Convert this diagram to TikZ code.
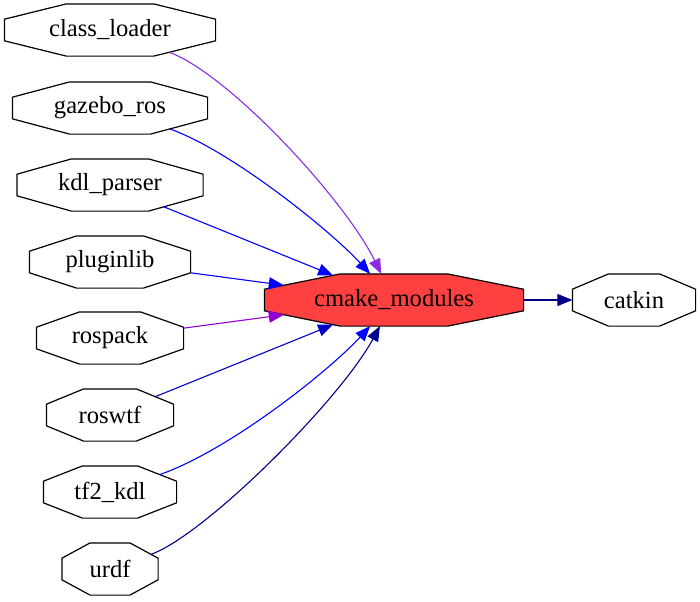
\documentclass[tikz,border=0pt]{standalone}
\usepackage{fontspec}
\setmainfont{Liberation Serif}
\usepackage{xcolor}
\usetikzlibrary{arrows.meta}
\definecolor{cmred}{HTML}{FF4040}
\definecolor{bviolet}{HTML}{8A2BE2}
\definecolor{dviolet}{HTML}{9400D3}
\definecolor{mblue}{HTML}{0000CD}
\definecolor{dblue}{HTML}{00008B}
% stretched octagon, as dot draws it
\makeatletter
\def\oct@size{%
  \southwest\edef\oct@xa{\the\pgf@x}\edef\oct@ya{\the\pgf@y}%
  \northeast\edef\oct@xb{\the\pgf@x}\edef\oct@yb{\the\pgf@y}%
  \pgfmathsetmacro\oct@cx{((\oct@xa)+(\oct@xb))/2}%
  \pgfmathsetmacro\oct@cy{((\oct@ya)+(\oct@yb))/2}%
  \pgfmathsetmacro\oct@a{((\oct@xb)-(\oct@xa))/2}%
  \pgfmathsetmacro\oct@b{((\oct@yb)-(\oct@ya))/2}%
}
\def\oct@pt#1#2{\pgfpathlineto{\pgfpoint{(\oct@cx+(#1)*\oct@a)*1pt}{(\oct@cy+(#2)*\oct@b)*1pt}}}
\pgfdeclareshape{octagon}{%
  \inheritsavedanchors[from=rectangle]
  \inheritanchor[from=rectangle]{center}
  \inheritanchor[from=rectangle]{north}
  \inheritanchor[from=rectangle]{south}
  \inheritanchor[from=rectangle]{east}
  \inheritanchor[from=rectangle]{west}
  \inheritanchor[from=rectangle]{mid}
  \inheritanchor[from=rectangle]{base}
  \backgroundpath{%
    \oct@size
    \pgfpathmoveto{\pgfpoint{(\oct@cx+\oct@a)*1pt}{(\oct@cy+0.4142*\oct@b)*1pt}}%
    \oct@pt{0.4142}{1}\oct@pt{-0.4142}{1}\oct@pt{-1}{0.4142}\oct@pt{-1}{-0.4142}%
    \oct@pt{-0.4142}{-1}\oct@pt{0.4142}{-1}\oct@pt{1}{-0.4142}%
    \pgfpathclose
  }%
  \anchorborder{%
    \edef\oct@dx{\the\pgf@x}\edef\oct@dy{\the\pgf@y}%
    \oct@size
    \pgfmathsetmacro\oct@len{max(veclen(\oct@dx,\oct@dy),0.001)}%
    \pgfmathsetmacro\oct@ux{abs(\oct@dx)/\oct@len}%
    \pgfmathsetmacro\oct@uy{abs(\oct@dy)/\oct@len}%
    \pgfmathsetmacro\oct@t{min(\oct@a/max(\oct@ux,0.01),\oct@b/max(\oct@uy,0.01),1.4142/(\oct@ux/\oct@a+\oct@uy/\oct@b))}%
    \pgfmathsetmacro\oct@px{\oct@cx+\oct@t*(\oct@dx)/\oct@len}%
    \pgfmathsetmacro\oct@py{\oct@cy+\oct@t*(\oct@dy)/\oct@len}%
    \pgf@x=\oct@px pt\pgf@y=\oct@py pt%
  }%
}
\makeatother
\begin{document}
\begin{tikzpicture}[x=0.5pt,y=0.5pt,>={Triangle[length=7.5pt,width=6pt]},
  font=\fontsize{12.3}{14}\selectfont,
  pkg/.style={octagon,draw,line width=0.6pt,inner sep=0pt,
    minimum height=25.5pt,minimum width=#1},
  dep/.style={->,line width=0.55pt}]
\useasboundingbox (0,0) rectangle (700,-601);
\node[pkg=105pt] (cl) at (110,-30) {class\_loader};
\node[pkg=97pt] (gz) at (110,-108) {gazebo\_ros};
\node[pkg=92.5pt] (kdl) at (110,-185) {kdl\_parser};
\node[pkg=80pt] (plg) at (110,-262) {pluginlib};
\node[pkg=73pt] (rsp) at (110,-338) {rospack};
\node[pkg=63pt] (wtf) at (110,-415) {roswtf};
\node[pkg=66pt] (tf) at (110,-492) {tf2\_kdl};
\node[pkg=47.5pt] (urdf) at (110,-569) {urdf};
\node[pkg=129pt,fill=cmred] (cm) at (394,-300) {cmake\_modules};
\node[pkg=61pt] (ck) at (634,-300) {catkin};
% edges into cmake_modules
\draw[dep,bviolet] (cl) .. controls (230,-75) and (345,-200) .. (cm);
\draw[dep,blue] (gz) .. controls (230,-150) and (330,-230) .. (cm);
\draw[dep,blue] (kdl) -- (cm);
\draw[dep,blue] (plg) -- (cm);
\draw[dep,dviolet] (rsp) -- (cm);
\draw[dep,mblue] (wtf) -- (cm);
\draw[dep,blue] (tf) .. controls (230,-450) and (330,-370) .. (cm);
\draw[dep,dblue] (urdf) .. controls (205,-535) and (340,-400) .. (cm);
\draw[dep,dblue] (cm) -- (ck);
\end{tikzpicture}
\end{document}
